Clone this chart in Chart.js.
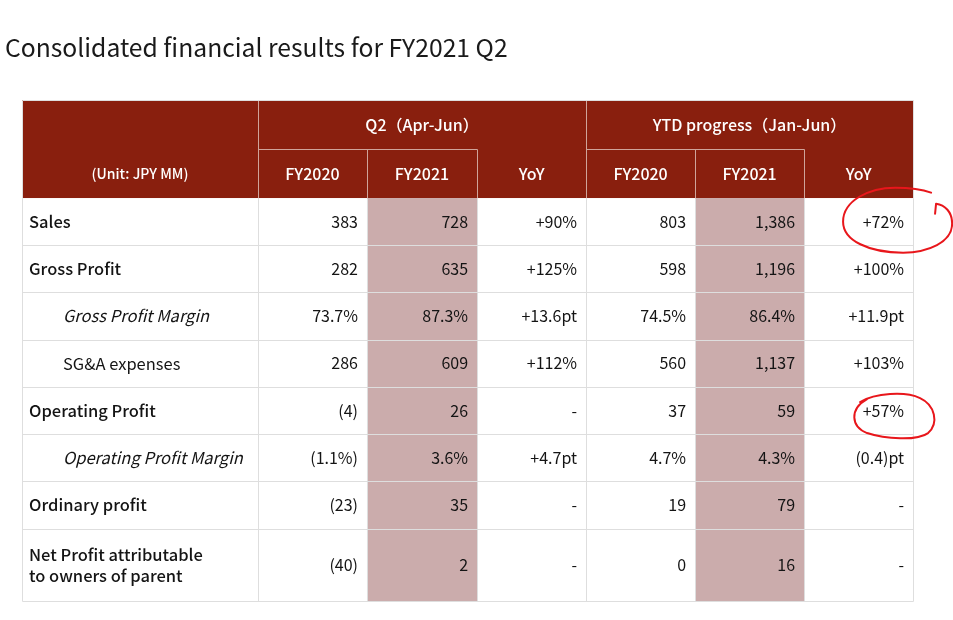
<!DOCTYPE html>
<html>
<head>
<meta charset="utf-8">
<script src="https://cdn.jsdelivr.net/npm/chart.js@4.4.1/dist/chart.umd.min.js"></script>
<style>
    html, body { margin: 0; padding: 0; background: #fff; }
    #wrap { width: 953px; height: 620px; }
</style>
</head>
<body>
<div id="wrap"><canvas id="resultsTable" width="953" height="620"></canvas></div>
<script>
// ============================
// DATA
// ============================
const rowLabels = ["Sales", "Gross Profit", "Gross Profit Margin", "SG&A expenses",
    "Operating Profit", "Operating Profit Margin", "Ordinary profit",
    "Net Profit attributable\nto owners of parent"];
const periodHeaders = ["Q2（Apr-Jun）", "YTD progress（Jan-Jun）"];
const yearHeaders = ["FY2020", "FY2021", "YoY"];
const unitLabel = "(Unit: JPY MM)";

const q2FY2020 = ["383", "282", "73.7%", "286", "(4)", "(1.1%)", "(23)", "(40)"];
const q2FY2021 = ["728", "635", "87.3%", "609", "26", "3.6%", "35", "2"];
const q2YoY = ["+90%", "+125%", "+13.6pt", "+112%", "-", "+4.7pt", "-", "-"];
const ytdFY2020 = ["803", "598", "74.5%", "560", "37", "4.7%", "19", "0"];
const ytdFY2021 = ["1,386", "1,196", "86.4%", "1,137", "59", "4.3%", "79", "16"];
const ytdYoY = ["+72%", "+100%", "+11.9pt", "+103%", "+57%", "(0.4)pt", "-", "-"];

// rows circled by hand in the YTD YoY column
const circledRows = [0, 4];

// ============================
// LAYOUT / STYLE
// ============================
const valueColumns = [q2FY2020, q2FY2021, q2YoY, ytdFY2020, ytdFY2021, ytdYoY];
const colEdges = [0, 2.165, 3.165, 4.175, 5.175, 6.175, 7.175, 8.175];
const headerEdges = [0, 1.04, 2.085];
const shadedColumns = [1, 4];
const indentedRows = [2, 3, 5];
const italicRows = [2, 5];

const HEADER_BG = "#891f0e";
const HEADER_LINE = "#cfa49a";
const SHADE = "#cbacac";
const GRID = "#dedede";
const INK = "#141414";
const FONT = "'Noto Sans CJK JP', 'Noto Sans', sans-serif";

// body row edges (the two-line row is taller)
const rowEdges = [headerEdges[2]];
rowLabels.forEach(label => {
    const h = label.includes("\n") ? 1.54 : 1.005;
    rowEdges.push(rowEdges[rowEdges.length - 1] + h);
});

const tablePlugin = {
    id: "financeTable",
    beforeDatasetsDraw(chart) {
        const { ctx, scales: { x, y } } = chart;
        const px = v => x.getPixelForValue(v);
        const py = v => y.getPixelForValue(v);
        const left = px(colEdges[0]);
        const right = px(colEdges[colEdges.length - 1]);
        const top = py(headerEdges[0]);
        const headBottom = py(headerEdges[2]);
        const bottom = py(rowEdges[rowEdges.length - 1]);

        ctx.save();

        // header background
        ctx.fillStyle = HEADER_BG;
        ctx.fillRect(left, top, right - left, headBottom - top);

        // shaded FY2021 cells
        ctx.fillStyle = SHADE;
        shadedColumns.forEach(c => {
            const x0 = px(colEdges[c + 1]), x1 = px(colEdges[c + 2]);
            ctx.fillRect(x0, headBottom, x1 - x0, bottom - headBottom);
        });

        const line = (x0, y0, x1, y1, color) => {
            ctx.strokeStyle = color;
            ctx.lineWidth = 1;
            ctx.beginPath();
            ctx.moveTo(Math.round(x0) + 0.5, Math.round(y0) + 0.5);
            ctx.lineTo(Math.round(x1) + 0.5, Math.round(y1) + 0.5);
            ctx.stroke();
        };

        // header lines
        const midHead = py(headerEdges[1]);
        line(px(colEdges[1]), top, px(colEdges[1]), headBottom, HEADER_LINE);
        line(px(colEdges[4]), top, px(colEdges[4]), headBottom, HEADER_LINE);
        [2, 3, 5, 6].forEach(c => line(px(colEdges[c]), midHead, px(colEdges[c]), headBottom, HEADER_LINE));
        line(px(colEdges[1]), midHead, px(colEdges[3]), midHead, HEADER_LINE);
        line(px(colEdges[4]), midHead, px(colEdges[6]), midHead, HEADER_LINE);
        line(left, top, right, top, GRID);

        // body grid
        rowEdges.forEach((r, i) => { if (i > 0) line(left, py(r), right, py(r), GRID); });
        colEdges.forEach(c => line(px(c), headBottom, px(c), bottom, GRID));
        line(left, top, left, headBottom, GRID);
        line(right, top, right, headBottom, GRID);

        // header texts
        ctx.fillStyle = "#ffffff";
        ctx.textBaseline = "middle";
        ctx.textAlign = "center";
        const headMidY0 = (top + midHead) / 2;
        const headMidY1 = (midHead + headBottom) / 2;
        ctx.font = "500 14px " + FONT;
        ctx.fillText(unitLabel, (px(colEdges[0]) + px(colEdges[1])) / 2, headMidY1);
        ctx.font = "500 16px " + FONT;
        periodHeaders.forEach((h, g) => {
            const c0 = 1 + g * 3;
            ctx.fillText(h, (px(colEdges[c0]) + px(colEdges[c0 + 3])) / 2, headMidY0);
            yearHeaders.forEach((yh, k) => {
                ctx.fillText(yh, (px(colEdges[c0 + k]) + px(colEdges[c0 + k + 1])) / 2, headMidY1);
            });
        });

        // body texts
        ctx.fillStyle = INK;
        rowLabels.forEach((label, i) => {
            const yMid = (py(rowEdges[i]) + py(rowEdges[i + 1])) / 2;
            ctx.textAlign = "left";
            const indented = indentedRows.includes(i);
            ctx.font = (italicRows.includes(i) ? "italic " : "") + (indented ? "400 " : "500 ") + "16.5px " + FONT;
            const lx = left + (indented ? 41 : 7);
            const lines = label.split("\n");
            lines.forEach((ln, k) => {
                ctx.fillText(ln, lx, yMid + (k - (lines.length - 1) / 2) * 21);
            });
            ctx.textAlign = "right";
            ctx.font = "400 16px " + FONT;
            valueColumns.forEach((col, c) => {
                ctx.fillText(col[i], px(colEdges[c + 2]) - 9, yMid);
            });
        });

        // hand-drawn circles
        ctx.strokeStyle = "#e8161b";
        ctx.lineWidth = 2;
        ctx.lineCap = "round";
        ctx.lineJoin = "round";
        circledRows.forEach((r, k) => {
            const cellRight = px(colEdges[7]);
            const cellMid = (py(rowEdges[r]) + py(rowEdges[r + 1])) / 2;
            ctx.beginPath();
            if (k === 0) {
                const cx = cellRight - 16, cy = cellMid - 1;
                ctx.moveTo(cx + 38, cy - 7);
                ctx.lineTo(cx + 39, cy - 17);
                ctx.bezierCurveTo(cx + 48, cy - 16, cx + 55, cy - 8, cx + 55, cy + 2);
                ctx.bezierCurveTo(cx + 56, cy + 22, cx + 30, cy + 32, cx + 6, cy + 32);
                ctx.bezierCurveTo(cx - 28, cy + 32, cx - 54, cy + 20, cx - 54, cy + 1);
                ctx.bezierCurveTo(cx - 54, cy - 20, cx - 28, cy - 33, cx - 2, cy - 33);
                ctx.bezierCurveTo(cx + 14, cy - 33, cx + 26, cy - 31, cx + 34, cy - 28);
            } else {
                const cx = cellRight - 18, cy = cellMid + 4.5;
                ctx.moveTo(cx - 35, cy - 13);
                ctx.bezierCurveTo(cx - 20, cy - 22, cx + 10, cy - 24, cx + 25, cy - 17);
                ctx.bezierCurveTo(cx + 40, cy - 10, cx + 44, cy + 8, cx + 33, cy + 18);
                ctx.bezierCurveTo(cx + 22, cy + 26, cx - 10, cy + 24, cx - 28, cy + 18);
                ctx.bezierCurveTo(cx - 44, cy + 12, cx - 46, cy - 6, cx - 28, cy - 16);
            }
            ctx.stroke();
        });

        ctx.restore();
    }
};

new Chart(document.getElementById("resultsTable"), {
    type: "scatter",
    data: { datasets: [{ data: [] }] },
    options: {
        responsive: false,
        animation: false,
        devicePixelRatio: 1,
        layout: { padding: { left: 5, right: 0, top: 0, bottom: 0 } },
        plugins: {
            legend: { display: false },
            tooltip: { enabled: false },
            title: {
                display: true,
                text: "Consolidated financial results for FY2021 Q2",
                align: "start",
                color: "#1a1a1a",
                font: { family: "'Noto Sans CJK JP', sans-serif", size: 24.7, weight: "normal" },
                padding: { top: 33, bottom: 37.4 }
            }
        },
        scales: {
            x: { type: "linear", display: false, min: -17 / 109, max: -17 / 109 + 948 / 109 },
            y: { type: "linear", display: false, reverse: true, min: 0, max: 520 / 47 }
        }
    },
    plugins: [tablePlugin]
});
</script>
</body>
</html>
